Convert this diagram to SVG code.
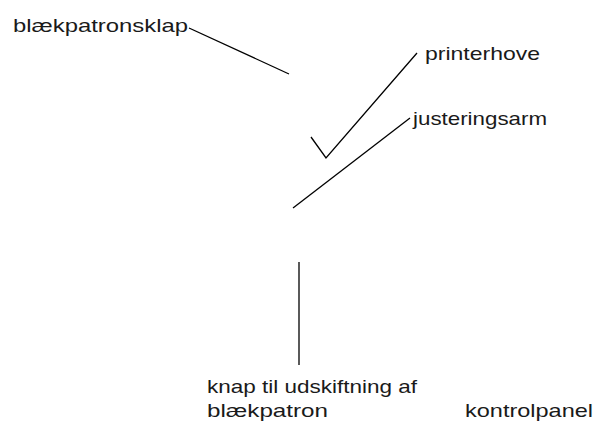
<svg xmlns="http://www.w3.org/2000/svg" width="601" height="430" viewBox="0 0 601 430">
<style>
text{font-family:"Liberation Sans","DejaVu Sans",sans-serif;font-size:18.5px;fill:#1a1a1a}
.c{stroke:#000;stroke-width:1.3;fill:none}
</style>
<rect width="601" height="430" fill="#fff"/>
<g id="connectors">
<line class="c" x1="189" y1="28" x2="289" y2="74"/>
<polyline class="c" points="311,137 326,158 417,53"/>
<line class="c" x1="410" y1="118" x2="293" y2="208"/>
<line class="c" x1="299" y1="262" x2="299" y2="365" stroke-width="2"/>
</g>
<g id="blaekpatronsklap"><text x="13" y="32" textLength="175" lengthAdjust="spacingAndGlyphs">blækpatronsklap</text></g>
<g id="printerhove"><text x="425" y="60" textLength="115" lengthAdjust="spacingAndGlyphs">printerhove</text></g>
<g id="justeringsarm"><text x="413" y="125" textLength="134" lengthAdjust="spacingAndGlyphs">justeringsarm</text></g>
<g id="knap"><text x="207" y="393" textLength="210" lengthAdjust="spacingAndGlyphs">knap til udskiftning af</text><text x="207" y="417" textLength="121" lengthAdjust="spacingAndGlyphs">blækpatron</text></g>
<g id="kontrolpanel"><text x="465" y="417" textLength="128" lengthAdjust="spacingAndGlyphs">kontrolpanel</text></g>
</svg>
